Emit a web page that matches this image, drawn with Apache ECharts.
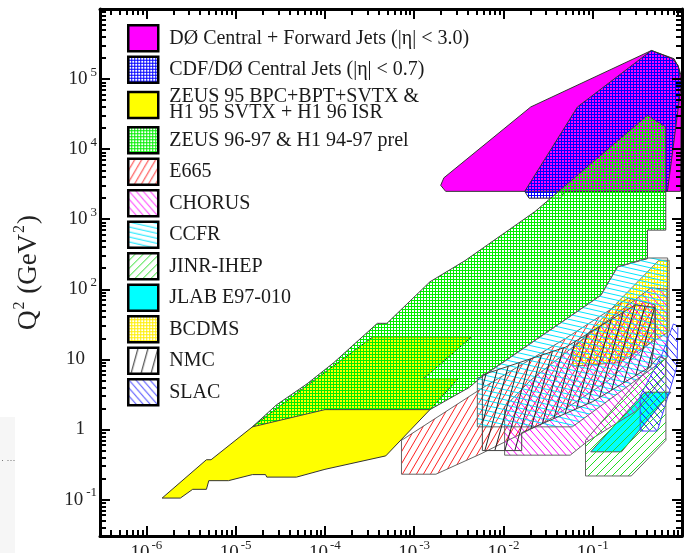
<!DOCTYPE html>
<html><head><meta charset="utf-8">
<script src="https://cdn.jsdelivr.net/npm/echarts@6/dist/echarts.min.js"></script>
<style>html,body{margin:0;padding:0;background:#fff}#c{width:686px;height:553px}</style>
</head><body><div id="c"></div>
<script>
// ---- axis ticks (exponents of 10) ----
const X_TICK_EXP = [-6, -5, -4, -3, -2, -1];
const Y_TICK_EXP = [-1, 0, 1, 2, 3, 4, 5];
const X_RANGE = [-6.52, 0];
const Y_RANGE = [-1.52, 6];

// ---- legend / series names ----
const NAMES = [
  'DØ Central + Forward Jets (|η| < 3.0)',
  'CDF/DØ Central Jets (|η| < 0.7)',
  'ZEUS 95 BPC+BPT+SVTX &\nH1 95 SVTX + H1 96 ISR',
  'ZEUS 96-97 & H1 94-97 prel',
  'E665', 'CHORUS', 'CCFR', 'JINR-IHEP', 'JLAB E97-010', 'BCDMS', 'NMC', 'SLAC'
];

// ---- regions: [x, Q^2 (GeV^2)] ----
const D0_FWD = [[2.25e-3,2500],[1.98e-3,3050],[2.15e-3,3900],[0.0202,4.0e4],[0.455,2.56e5],[0.815,1.95e5],[0.914,1.48e5],[0.99,1.07e5],[0.96,2500]];
const CDF_D0_CEN = [[0.0173,2500],[0.0193,2000],[0.044,2000],[0.048,2500],[0.687,2500],[0.985,8.6e4],[0.904,1.57e5],[0.783,1.95e5],[0.455,2.56e5],[0.0674,4.0e4]];
const ZEUS95 = [[1.5e-6,0.105],[2.4e-6,0.105],[3.3e-6,0.14],[4.7e-6,0.14],[5.0e-6,0.186],[8.3e-6,0.186],[1.54e-5,0.227],[2.16e-5,0.227],[2.23e-5,0.209],[4.8e-5,0.209],[1.0e-4,0.27],[4.8e-4,0.42],[1.5e-3,1.92],[3.1e-3,5.3],[1.27e-3,5.3],[4.4e-3,21],[3.45e-4,21],[6.7e-5,4.48],[1.54e-5,1.09],[5.3e-6,0.37],[4.7e-6,0.37]];
const ZEUS96 = [[1.54e-5,1.09],[1.0e-4,1.92],[1.5e-3,1.92],[4.15e-3,3.99],[5.83e-3,5.77],[0.123,82],[0.189,208],[0.41,274],[0.41,700],[0.658,700],[0.658,20650],[0.41,30300],[0.0226,1290],[3.7e-3,256],[1.5e-3,128],[4.95e-4,32.7],[3.86e-4,32.7],[1.25e-4,8.95],[6.3e-5,4.48],[2.86e-5,2.24]];
const E665 = [[7.2e-4,0.23],[1.75e-3,0.23],[5.6e-3,0.45],[0.03,1.3],[0.15,5],[0.5,20],[0.5,60],[0.25,75],[0.05,20],[5.6e-3,3.8],[7.2e-4,0.7]];
const CHORUS = [[0.0103,0.43],[0.056,0.43],[0.085,0.66],[0.3,1.8],[0.65,6],[0.68,20],[0.68,100],[0.45,105],[0.1,25],[0.02,5],[0.0103,2.1]];
const CCFR = [[5.1e-3,1.09],[0.059,1.09],[0.69,10.8],[0.69,280],[0.41,280],[0.19,210],[0.123,82],[5.6e-3,5.5],[5.1e-3,5.5]];
const JINR = [[0.083,0.217],[0.27,0.217],[0.66,0.7],[0.66,10],[0.55,11],[0.083,0.7]];
const JLAB = [[0.095,0.48],[0.21,0.48],[0.75,3.4],[0.38,3.4]];
const BCDMS = [[0.06,8],[0.2,9],[0.72,25],[0.72,260],[0.55,260],[0.2,70],[0.06,14]];
const NMC = [[5.8e-3,0.5],[0.016,0.5],[0.016,0.9],[0.1,2.5],[0.45,8],[0.5,20],[0.5,55],[0.3,60],[0.05,15],[5.8e-3,6]];
const SLAC = [[0.34,0.95],[0.53,0.95],[0.88,8],[0.9,30],[0.8,32],[0.6,12],[0.34,3]];

// ---- fill patterns ----
function mesh(color) {
  const c = document.createElement('canvas'); c.width = 3; c.height = 3;
  const g = c.getContext('2d'); g.fillStyle = color; g.fillRect(0,0,3,3); g.clearRect(1,1,2,2);
  return {image: c, repeat: 'repeat'};
}
function hatch(color, w, h, dir) {
  const c = document.createElement('canvas'); c.width = w; c.height = h;
  const g = c.getContext('2d'); g.strokeStyle = color; g.lineWidth = 1;
  for (let k = -1; k <= 1; k++) {
    g.beginPath();
    if (dir === '/') { g.moveTo(k*w - w, 2*h); g.lineTo(k*w + 2*w, -h); }
    else { g.moveTo(k*w - w, -h); g.lineTo(k*w + 2*w, 2*h); }
    g.stroke();
  }
  return {image: c, repeat: 'repeat'};
}

const SERIES = [
  {name: NAMES[0], poly: D0_FWD, fill: '#ff00ff', stroke: '#333'},
  {name: NAMES[1], poly: CDF_D0_CEN, fill: mesh('#0000ff'), stroke: '#333'},
  {name: NAMES[2], poly: ZEUS95, fill: '#ffff00', stroke: '#333'},
  {name: NAMES[3], poly: ZEUS96, fill: mesh('#00ee00'), stroke: '#444'},
  {name: NAMES[8], poly: JLAB, fill: '#00ffff', stroke: '#555'},
  {name: NAMES[9], poly: BCDMS, fill: mesh('#ffee00'), stroke: '#777'},
  {name: NAMES[4], poly: E665, fill: hatch('#ff2020', 7, 12, '/'), stroke: '#666'},
  {name: NAMES[5], poly: CHORUS, fill: hatch('#ff00ff', 7, 8, '\\'), stroke: '#666'},
  {name: NAMES[6], poly: CCFR, fill: hatch('#00e5ff', 22, 5, '\\'), stroke: '#666'},
  {name: NAMES[10], poly: NMC, fill: hatch('#222222', 10, 36, '/'), stroke: '#444'},
  {name: NAMES[11], poly: SLAC, fill: hatch('#1515ff', 7, 8, '\\'), stroke: '#4444ff'},
  {name: NAMES[7], poly: JINR, fill: hatch('#22dd22', 8, 8, '/'), stroke: '#666'}
];

function minors(lo, hi) {
  const out = [];
  for (let n = Math.floor(lo) - 1; n <= Math.ceil(hi); n++)
    for (let k = 2; k <= 9; k++) { const v = n + Math.log10(k); if (v > lo && v < hi) out.push(v); }
  return out;
}
const FONT = 'Liberation Serif';
const TXT = '#222';
const xRich = {
  b: {fontFamily: FONT, fontSize: 19, color: TXT, lineHeight: 19, verticalAlign: 'bottom'},
  s: {fontFamily: FONT, fontSize: 13, color: TXT, lineHeight: 13, padding: [0,0,11,2], verticalAlign: 'bottom'}
};
const yRich = {
  b: {fontFamily: FONT, fontSize: 19, color: TXT, lineHeight: 19, verticalAlign: 'bottom'},
  s: {fontFamily: FONT, fontSize: 13, color: TXT, lineHeight: 13, padding: [0,0,10,3], verticalAlign: 'bottom'},
  p: {fontFamily: FONT, fontSize: 19, color: TXT, lineHeight: 19, padding: [0,12,0,0]}
};

function axis(dim, pos, major, isMajor) {
  const range = dim === 'x' ? X_RANGE : Y_RANGE;
  const ticks = isMajor ? major : minors(range[0], range[1]);
  const a = {
    type: 'value', min: range[0], max: range[1], position: pos, z: 5,
    splitLine: {show: false},
    axisLine: {show: isMajor, onZero: false, lineStyle: {color: '#000', width: 3}},
    axisTick: {show: true, inside: true, length: isMajor ? 10 : 6, customValues: ticks, lineStyle: {color: '#000', width: 2}},
    axisLabel: {show: false}
  };
  const labelled = isMajor && (pos === 'bottom' || pos === 'left');
  if (labelled && dim === 'x') {
    a.axisLabel = {show: true, customValues: major, margin: 8, rich: xRich,
      formatter: v => '{b|10}{s|' + Math.round(v) + '}'};
  }
  if (labelled && dim === 'y') {
    a.axisLabel = {show: true, customValues: major, margin: 3, rich: yRich,
      formatter: v => { const n = Math.round(v); if (n === 0) return '{p|1}'; if (n === 1) return '{p|10}'; return '{b|10}{s|' + n + '}'; }};
    a.name = '{a|Q}{s|2}{a| (GeV}{s|2}{a|)}';
    a.nameLocation = 'middle'; a.nameGap = 58; a.nameRotate = 90;
    a.nameTextStyle = {rich: {
      a: {fontFamily: FONT, fontSize: 27, color: TXT, lineHeight: 27, verticalAlign: 'bottom'},
      s: {fontFamily: FONT, fontSize: 16, color: TXT, lineHeight: 16, padding: [0,1,14,1], verticalAlign: 'bottom'}
    }};
  }
  return a;
}

const chart = echarts.init(document.getElementById('c'), null, {renderer: 'canvas'});
chart.setOption({
  animation: false,
  backgroundColor: '#fff',
  grid: {left: 100, right: 4, top: 9, bottom: 17, containLabel: false, outerBoundsMode: 'none'},
  xAxis: [axis('x','bottom',X_TICK_EXP,true), axis('x','bottom',X_TICK_EXP,false), axis('x','top',X_TICK_EXP,true), axis('x','top',X_TICK_EXP,false)],
  yAxis: [axis('y','left',Y_TICK_EXP,true), axis('y','left',Y_TICK_EXP,false), axis('y','right',Y_TICK_EXP,true), axis('y','right',Y_TICK_EXP,false)],
  legend: {
    orient: 'vertical', left: 122, top: 19, itemWidth: 30, itemHeight: 26, itemGap: 3,
    icon: 'rect', selectedMode: false,
    itemStyle: {borderColor: '#000', borderWidth: 2.5},
    textStyle: {fontFamily: FONT, fontSize: 20, color: '#1a1a1a', lineHeight: 16, padding: [0,0,0,6]},
    data: NAMES
  },
  graphic: [
    {type: 'rect', left: 0, top: 417, shape: {width: 15, height: 136}, style: {fill: '#f6f6f6'}, z: -1},
    {type: 'text', left: 1, top: 456, style: {text: '· ···', fontSize: 9, fill: '#666'}}
  ],
  series: SERIES.map(s => ({
    type: 'custom', name: s.name, coordinateSystem: 'cartesian2d', xAxisIndex: 0, yAxisIndex: 0,
    clip: true, z: 2, silent: true,
    itemStyle: {color: s.fill},
    data: [[0, 0]],
    renderItem: (params, api) => ({
      type: 'polygon',
      shape: {points: s.poly.map(p => api.coord([Math.log10(p[0]), Math.log10(p[1])]))},
      style: {fill: s.fill, stroke: s.stroke, lineWidth: 1}
    })
  }))
});
</script></body></html>
